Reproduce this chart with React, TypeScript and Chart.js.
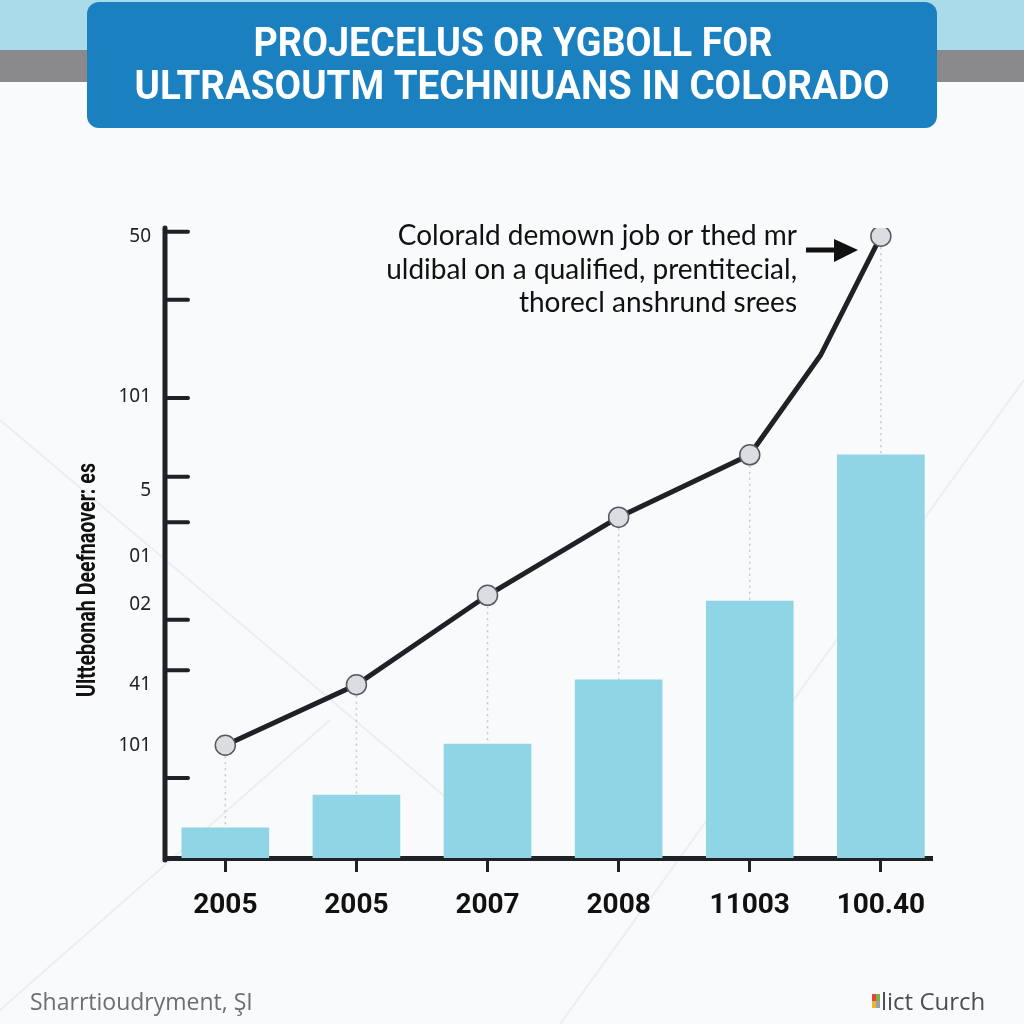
import React, { useEffect, useRef } from 'react';
import { Chart, registerables } from 'chart.js';

Chart.register(...registerables);

// ---- data ----
const titleLines = ['PROJECELUS OR YGBOLL FOR', 'ULTRASOUTM TECHNIUANS IN COLORADO'];
const xLabels = ['2005', '2005', '2007', '2008', '11003', '100.40'];
const barValues = [4.8, 10.0, 18.1, 28.3, 40.8, 64.0];
const lineValues = [17.9, 27.5, 41.7, 54.1, 64.0, 98.7];
const lineBend = { x: 4.54, y: 79.8 }; // kink in the line between the last two points
const yTickMarks = [99.4, 88.6, 73.0, 60.5, 53.3, 37.8, 29.8, 12.7];
const yTickLabels = ['50', '101', '5', '01', '02', '41', '101'];
const yTickLabelValues = [98.6, 73.2, 58.3, 47.8, 40.3, 27.5, 17.8];
const yTitle = 'Ulttebonah Deefnaover: es';
const noteLines = ['Colorald demown job or thed mr', 'uldibal on a qualified, prentitecial,', 'thorecl anshrund srees'];
const footerLeft = 'Sharrtioudryment, ŞI';
const footerRight = 'lict Curch';

const INK = '#1e2226';

function fitText(ctx: CanvasRenderingContext2D, text: string, cx: number, cy: number, width: number) {
  const w = ctx.measureText(text).width;
  const k = width / w;
  ctx.save();
  ctx.translate(cx, cy);
  ctx.scale(k, 1);
  ctx.textAlign = 'center';
  ctx.fillText(text, 0, 0);
  ctx.restore();
}

const decorPlugin = {
  id: 'decor',
  beforeDraw(chart: any) {
    const ctx: CanvasRenderingContext2D = chart.ctx;
    const W = chart.width;
    ctx.save();
    ctx.fillStyle = '#f8fafb';
    ctx.fillRect(0, 0, W, chart.height);
    // faint background diagonals
    ctx.strokeStyle = 'rgba(200,208,214,0.25)';
    ctx.lineWidth = 2;
    ctx.beginPath();
    ctx.moveTo(0, 420); ctx.lineTo(520, 860);
    ctx.moveTo(1024, 380); ctx.lineTo(560, 1024);
    ctx.moveTo(0, 1010); ctx.lineTo(330, 720);
    ctx.stroke();
    // top bands
    ctx.fillStyle = '#a9dbea';
    ctx.fillRect(0, 0, W, 50);
    ctx.fillStyle = '#8a8a8c';
    ctx.fillRect(0, 50, W, 32);
    // title box
    ctx.fillStyle = '#1b80c0';
    ctx.beginPath();
    ctx.roundRect(87, 2, 850, 126, 12);
    ctx.fill();
    ctx.fillStyle = '#ffffff';
    ctx.font = 'bold 41px Roboto';
    ctx.textBaseline = 'middle';
    fitText(ctx, titleLines[0], 513, 46, 519);
    fitText(ctx, titleLines[1], 512, 89, 755);
    ctx.restore();
  },
  beforeDatasetsDraw(chart: any) {
    const ctx: CanvasRenderingContext2D = chart.ctx;
    const xs = chart.scales.x;
    const ys = chart.scales.y;
    ctx.save();
    ctx.strokeStyle = '#c4c9ce';
    ctx.lineWidth = 1.5;
    ctx.setLineDash([2, 4]);
    lineValues.forEach((v, i) => {
      const px = xs.getPixelForValue(i);
      ctx.beginPath();
      ctx.moveTo(px, ys.getPixelForValue(v) + 11);
      ctx.lineTo(px, ys.getPixelForValue(barValues[i]));
      ctx.stroke();
    });
    ctx.restore();
  },
  afterDraw(chart: any) {
    const ctx: CanvasRenderingContext2D = chart.ctx;
    const ys = chart.scales.y;
    const area = chart.chartArea;
    ctx.save();
    // y axis line
    ctx.strokeStyle = INK;
    ctx.lineCap = 'round';
    ctx.lineWidth = 5;
    ctx.beginPath();
    ctx.moveTo(area.left, ys.getPixelForValue(100));
    ctx.lineTo(area.left, area.bottom + 2);
    ctx.stroke();
    // inward tick marks
    ctx.lineWidth = 4;
    yTickMarks.forEach((v) => {
      const py = ys.getPixelForValue(v);
      ctx.beginPath();
      ctx.moveTo(area.left, py);
      ctx.lineTo(area.left + 23, py);
      ctx.stroke();
    });
    // tick labels
    ctx.fillStyle = '#222';
    ctx.font = '19px "Noto Sans"';
    ctx.textAlign = 'right';
    ctx.textBaseline = 'middle';
    yTickLabels.forEach((t, i) => {
      ctx.fillText(t, 151, ys.getPixelForValue(yTickLabelValues[i]));
    });
    // y title
    ctx.save();
    ctx.translate(89, 580);
    ctx.rotate(-Math.PI / 2);
    ctx.font = 'bold 25px Roboto';
    ctx.fillStyle = '#111';
    fitText(ctx, yTitle, 0, 0, 234);
    ctx.restore();
    // annotation
    ctx.fillStyle = '#111';
    ctx.font = '28px Lato';
    ctx.textAlign = 'right';
    ctx.textBaseline = 'middle';
    noteLines.forEach((t, i) => ctx.fillText(t, 797, 236 + i * 33.5));
    // arrow
    ctx.strokeStyle = '#111';
    ctx.lineWidth = 5;
    ctx.lineCap = 'butt';
    ctx.beginPath();
    ctx.moveTo(806, 250);
    ctx.lineTo(838, 250);
    ctx.stroke();
    ctx.fillStyle = '#111';
    ctx.beginPath();
    ctx.moveTo(834, 239);
    ctx.lineTo(858, 250);
    ctx.lineTo(834, 262);
    ctx.closePath();
    ctx.fill();
    // footer
    ctx.textAlign = 'left';
    ctx.font = '23px "Open Sans"';
    ctx.fillStyle = '#6b6f73';
    ctx.fillText(footerLeft, 30, 1003);
    const cols = ['#e0463c', '#7cb342', '#f2b134', '#9aa0a6'];
    cols.forEach((c, i) => {
      ctx.fillStyle = c;
      ctx.fillRect(872 + (i % 2) * 4, 994 + Math.floor(i / 2) * 7, 4, 7);
    });
    ctx.fillStyle = '#4a4e52';
    ctx.font = '24px "Open Sans"';
    ctx.fillText(footerRight, 881, 1003);
    ctx.restore();
  },
};

export default function App() {
  const ref = useRef<HTMLCanvasElement | null>(null);
  useEffect(() => {
    if (!ref.current) return;
    const linePoints = lineValues.map((v, i) => ({ x: i, y: v }));
    linePoints.splice(5, 0, { x: lineBend.x, y: lineBend.y });
    const radii = linePoints.map((p) => (Number.isInteger(p.x) ? 10 : 0));
    const chart = new Chart(ref.current, {
      type: 'bar',
      data: {
        datasets: [
          {
            type: 'line',
            data: linePoints,
            borderColor: INK,
            borderWidth: 5,
            pointRadius: radii,
            pointBackgroundColor: '#dcdde1',
            pointBorderColor: '#555a60',
            pointBorderWidth: 1.5,
            tension: 0,
            order: 0,
          } as any,
          {
            type: 'bar',
            data: barValues.map((v, i) => ({ x: i, y: v })),
            backgroundColor: '#8fd5e6',
            barThickness: 87,
            order: 1,
          } as any,
        ],
      },
      options: {
        responsive: false,
        animation: false,
        layout: { padding: { left: 165, top: 228, right: 92, bottom: 86 } },
        plugins: { legend: { display: false }, tooltip: { enabled: false } },
        scales: {
          x: {
            type: 'linear',
            offset: false,
            min: -0.46,
            max: 5.39,
            afterBuildTicks: (s: any) => {
              s.ticks = xLabels.map((_, i) => ({ value: i }));
            },
            afterFit: (s: any) => {
              s.height = 80;
            },
            ticks: {
              callback: (v: any) => xLabels[Math.round(Number(v))],
              font: { family: 'Roboto', size: 28, weight: 'bold' },
              color: '#111',
              padding: 17,
              maxRotation: 0,
              autoSkip: false,
            },
            grid: {
              offset: false,
              drawOnChartArea: false,
              drawTicks: true,
              tickLength: 14,
              tickWidth: 3,
              tickColor: INK,
            },
            border: { display: true, color: INK, width: 5 },
          },
          y: {
            type: 'linear',
            display: false,
            min: 0,
            max: 100,
          },
        },
      },
      plugins: [decorPlugin],
    } as any);
    return () => chart.destroy();
  }, []);
  return (
    <div style={{ position: 'absolute', left: 0, top: 0, width: 1024, height: 1024 }}>
      <canvas ref={ref} width={1024} height={1024} style={{ display: 'block' }} />
    </div>
  );
}
